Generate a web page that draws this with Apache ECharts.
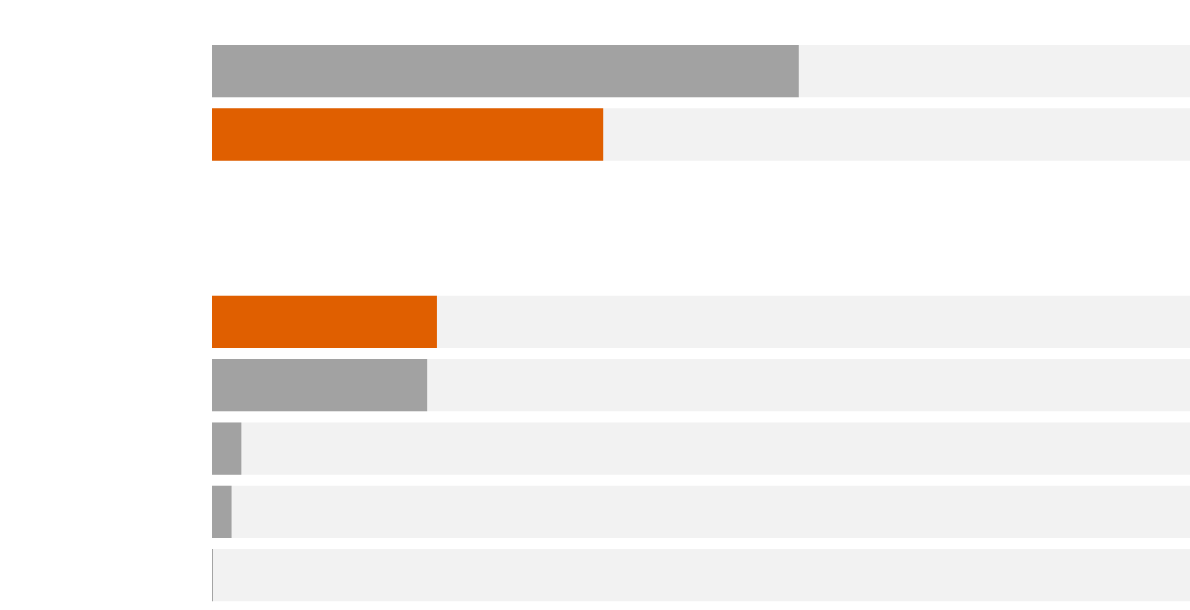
<!DOCTYPE html>
<html>
<head>
<meta charset="utf-8">
<script src="https://cdn.jsdelivr.net/npm/echarts@6/dist/echarts.min.js"></script>
<style>
  html, body { margin: 0; padding: 0; background: #fff; }
  #chart { width: 1190px; height: 610px; }
</style>
</head>
<body>
<div id="chart"></div>
<script>
// two groups of rows, top to bottom
var topCategories = ['r1', 'r2'];
var topValues = [60, 40];
var topHighlighted = [false, true];

var bottomCategories = ['r3', 'r4', 'r5', 'r6', 'r7'];
var bottomValues = [23, 22, 3, 2, 0.1];
var bottomHighlighted = [true, false, false, false, false];

var maxValue = 100;

var chartDom = document.getElementById('chart'),
    myChart = echarts.init(chartDom),
    option;

function toBars(values, highlighted) {
    return values.map(function (v, i) {
        return {
            value: v,
            itemStyle: { color: highlighted[i] ? '#e05f00' : '#a2a2a2' }
        };
    });
}
function toBg(values) {
    return values.map(function () { return maxValue; });
}

var series = [];
[[topValues, topHighlighted], [bottomValues, bottomHighlighted]].forEach(function (g, idx) {
    series.push({
        type: 'bar',
        xAxisIndex: idx,
        yAxisIndex: idx,
        data: toBg(g[0]),
        barWidth: 52.3,
        barGap: '-100%',
        silent: true,
        itemStyle: { color: '#f2f2f2' }
    });
    series.push({
        type: 'bar',
        xAxisIndex: idx,
        yAxisIndex: idx,
        data: toBars(g[0], g[1]),
        barWidth: 52.3,
        barGap: '-100%'
    });
});

option = {
    animation: false,
    grid: [
        { left: 212, right: 0, top: 39.5, height: 126.67 },
        { left: 212, right: 0, top: 290.2, height: 316.67 }
    ],
    xAxis: [
        { type: 'value', gridIndex: 0, min: 0, max: maxValue, show: false },
        { type: 'value', gridIndex: 1, min: 0, max: maxValue, show: false }
    ],
    yAxis: [
        { type: 'category', gridIndex: 0, data: topCategories, inverse: true, show: false },
        { type: 'category', gridIndex: 1, data: bottomCategories, inverse: true, show: false }
    ],
    series: series
};

option && myChart.setOption(option);
</script>
</body>
</html>
